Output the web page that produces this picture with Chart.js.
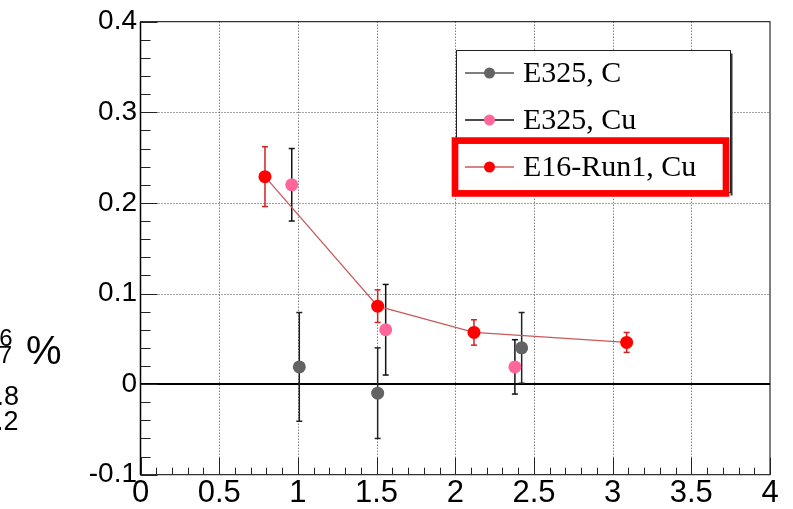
<!DOCTYPE html>
<html><head><meta charset="utf-8">
<script src="https://cdn.jsdelivr.net/npm/chart.js@4.4.0/dist/chart.umd.min.js"></script>
<style>html,body{margin:0;padding:0;background:#fff;overflow:hidden}canvas{display:block}</style>
</head><body>
<canvas id="c" width="793" height="509"></canvas>
<script>
// ---- data ----
const seriesNames = ["E325, C", "E325, Cu", "E16-Run1, Cu"];
const cX   = [1.009, 1.507, 2.422];
const cY   = [0.019, -0.010, 0.040];
const cErr = [0.060, 0.050, 0.039];
const cuX   = [0.961, 1.558, 2.379];
const cuY   = [0.220, 0.060, 0.019];
const cuErr = [0.040, 0.050, 0.030];
const e16X   = [0.791, 1.507, 2.119, 3.089];
const e16Y   = [0.229, 0.086, 0.057, 0.046];
const e16Err = [0.033, 0.018, 0.014, 0.011];
const xTickValues = [0, 0.5, 1, 1.5, 2, 2.5, 3, 3.5, 4];
const xTickLabels = ["0", "0.5", "1", "1.5", "2", "2.5", "3", "3.5", "4"];
const yTickValues = [-0.1, 0, 0.1, 0.2, 0.3, 0.4];
const yTickLabels = ["-0.1", "0", "0.1", "0.2", "0.3", "0.4"];
const sideTexts = ["6", "7", "%", ".8", ".2"];

const colGray = "#636363", colPink = "#ff6699", colRed = "#ff0000", colRedLine = "#c85a5a";

function pts(xs, ys){ return xs.map((v,i)=>({x:v, y:ys[i]})); }

function hline(ctx,x1,y1,x2,y2){ ctx.beginPath(); ctx.moveTo(x1,y1); ctx.lineTo(x2,y2); ctx.stroke(); }

const rootPlugin = {
  id: 'rootStyle',
  beforeDatasetsDraw(chart){
    const {ctx, chartArea:a, scales:{x, y}} = chart;
    ctx.save();
    // dotted grid
    ctx.strokeStyle = '#444'; ctx.lineWidth = 1; ctx.setLineDash([1,2]);
    xTickValues.forEach(v=>{
      if (v <= x.min || v >= x.max) return;
      const px = Math.round(x.getPixelForValue(v)) + 0.5;
      hline(ctx, px, a.top, px, a.bottom);
    });
    yTickValues.forEach(v=>{
      if (v <= y.min || v >= y.max || v === 0) return;
      const py = Math.round(y.getPixelForValue(v)) + 0.5;
      hline(ctx, a.left, py, a.right, py);
    });
    ctx.setLineDash([]);
    // zero line
    ctx.strokeStyle = '#000'; ctx.lineWidth = 2;
    const y0 = y.getPixelForValue(0);
    hline(ctx, a.left, y0, a.right, y0);
    // error bars
    function errs(xs, ys, es, color, cap){
      ctx.strokeStyle = color; ctx.lineWidth = 1.5;
      xs.forEach((xv,i)=>{
        const px = x.getPixelForValue(xv);
        const top = y.getPixelForValue(ys[i] + es[i]);
        const bot = y.getPixelForValue(ys[i] - es[i]);
        hline(ctx, px, top, px, bot);
        hline(ctx, px-cap, top, px+cap, top);
        hline(ctx, px-cap, bot, px+cap, bot);
      });
    }
    errs(cX, cY, cErr, '#222', 3);
    errs(cuX, cuY, cuErr, '#111', 3);
    errs(e16X, e16Y, e16Err, '#d42020', 3);
    ctx.restore();
  },
  afterDraw(chart){
    const {ctx, chartArea:a, scales:{x, y}} = chart;
    ctx.save();
    // frame
    ctx.strokeStyle = '#000'; ctx.lineWidth = 1;
    ctx.strokeRect(a.left, a.top, a.right - a.left, a.bottom - a.top);
    ctx.lineWidth = 1.5;
    hline(ctx, a.left, a.top, a.left, a.bottom);
    // ticks (inside, ROOT style)
    ctx.lineWidth = 1; ctx.strokeStyle = '#222';
    for (let k = 0; k <= 40; k++){
      const v = k * 0.1;
      const px = Math.round(x.getPixelForValue(v)) + 0.5;
      const len = (k % 5 === 0) ? 17 : 7;
      hline(ctx, px, a.bottom, px, a.bottom - len);
    }
    for (let k = -5; k <= 20; k++){
      const v = k * 0.02;
      const py = Math.round(y.getPixelForValue(v)) + 0.5;
      const len = (k % 5 === 0) ? 17 : 10;
      hline(ctx, a.left, py, a.left + len, py);
    }
    // legend box
    const L = 456.5, T = 50.5, R = 730.5, B = 192.5;
    ctx.fillStyle = '#fff'; ctx.fillRect(L, T, R-L, B-T);
    ctx.fillStyle = '#333'; ctx.fillRect(R, T+3, 2, B-T);
    ctx.strokeStyle = '#222'; ctx.lineWidth = 1;
    ctx.strokeRect(L, T, R-L, B-T);
    const rows = [73, 120, 167];
    const markCols = [colGray, colPink, colRed];
    const lineCols = ['#555', '#111', colRedLine];
    ctx.font = '30px "Liberation Serif", "Times New Roman", serif';
    ctx.textBaseline = 'middle'; ctx.textAlign = 'left';
    seriesNames.forEach((n,i)=>{
      ctx.strokeStyle = lineCols[i]; ctx.lineWidth = 1.3;
      hline(ctx, 465, rows[i], 514, rows[i]);
      ctx.fillStyle = markCols[i];
      ctx.beginPath(); ctx.arc(489.5, rows[i], 5.5, 0, Math.PI*2); ctx.fill();
      ctx.fillStyle = '#000';
      ctx.fillText(n, 523, rows[i] + 1);
    });
    // red highlight box
    ctx.strokeStyle = '#ff0000'; ctx.lineWidth = 6.7;
    ctx.strokeRect(455, 140.6, 271, 52.8);
    // clipped side text
    ctx.fillStyle = '#000'; ctx.textBaseline = 'middle';
    ctx.font = '24px "Liberation Sans", Arial, sans-serif';
    ctx.textAlign = 'right';
    ctx.fillText(sideTexts[0], 12.5, 339);
    ctx.fillText(sideTexts[1], 12, 356);
    ctx.font = '40px "Liberation Sans", Arial, sans-serif';
    ctx.textAlign = 'left';
    ctx.fillText(sideTexts[2], 26, 353);
    ctx.font = '27px "Liberation Sans", Arial, sans-serif';
    ctx.textAlign = 'right';
    ctx.fillText(sideTexts[3], 19, 398);
    ctx.fillText(sideTexts[4], 18.5, 423);
    ctx.restore();
  }
};

new Chart(document.getElementById('c'), {
  type: 'scatter',
  data: {
    datasets: [
      { label: seriesNames[0], data: pts(cX, cY), showLine: false,
        pointRadius: 6.5, pointBorderWidth: 0, backgroundColor: colGray, borderColor: colGray, order: 3 },
      { label: seriesNames[1], data: pts(cuX, cuY), showLine: false,
        pointRadius: 6.5, pointBorderWidth: 0, backgroundColor: colPink, borderColor: colPink, order: 2 },
      { label: seriesNames[2], data: pts(e16X, e16Y), showLine: true, borderWidth: 1.3,
        borderColor: colRedLine, pointBackgroundColor: colRed, pointBorderColor: colRed,
        pointRadius: 6.5, pointBorderWidth: 0, order: 1 }
    ]
  },
  options: {
    responsive: false, animation: false, devicePixelRatio: 1,
    layout: { padding: { top: 21.7, right: 23, bottom: 0, left: 0 } },
    plugins: { legend: { display: false }, tooltip: { enabled: false } },
    scales: {
      x: {
        type: 'linear', min: 0, max: 4,
        afterBuildTicks: s => { s.ticks = xTickValues.map(v => ({ value: v })); },
        afterFit: s => { s.height = 34.3; },
        grid: { display: false, drawTicks: false }, border: { display: false },
        ticks: { autoSkip: false, maxRotation: 0, minRotation: 0, padding: 0, color: '#000',
          font: { family: '"Liberation Sans", Arial, sans-serif', size: 31 },
          callback: v => xTickLabels[xTickValues.indexOf(v)] }
      },
      y: {
        type: 'linear', min: -0.1, max: 0.4,
        afterBuildTicks: s => { s.ticks = yTickValues.map(v => ({ value: v })); },
        afterFit: s => { s.width = 140.5; },
        grid: { display: false, drawTicks: false }, border: { display: false },
        ticks: { autoSkip: false, padding: 3.5, color: '#000',
          font: { family: '"Liberation Sans", Arial, sans-serif', size: 28 },
          callback: v => yTickLabels[yTickValues.indexOf(v)] }
      }
    }
  },
  plugins: [rootPlugin]
});
</script>
</body></html>
